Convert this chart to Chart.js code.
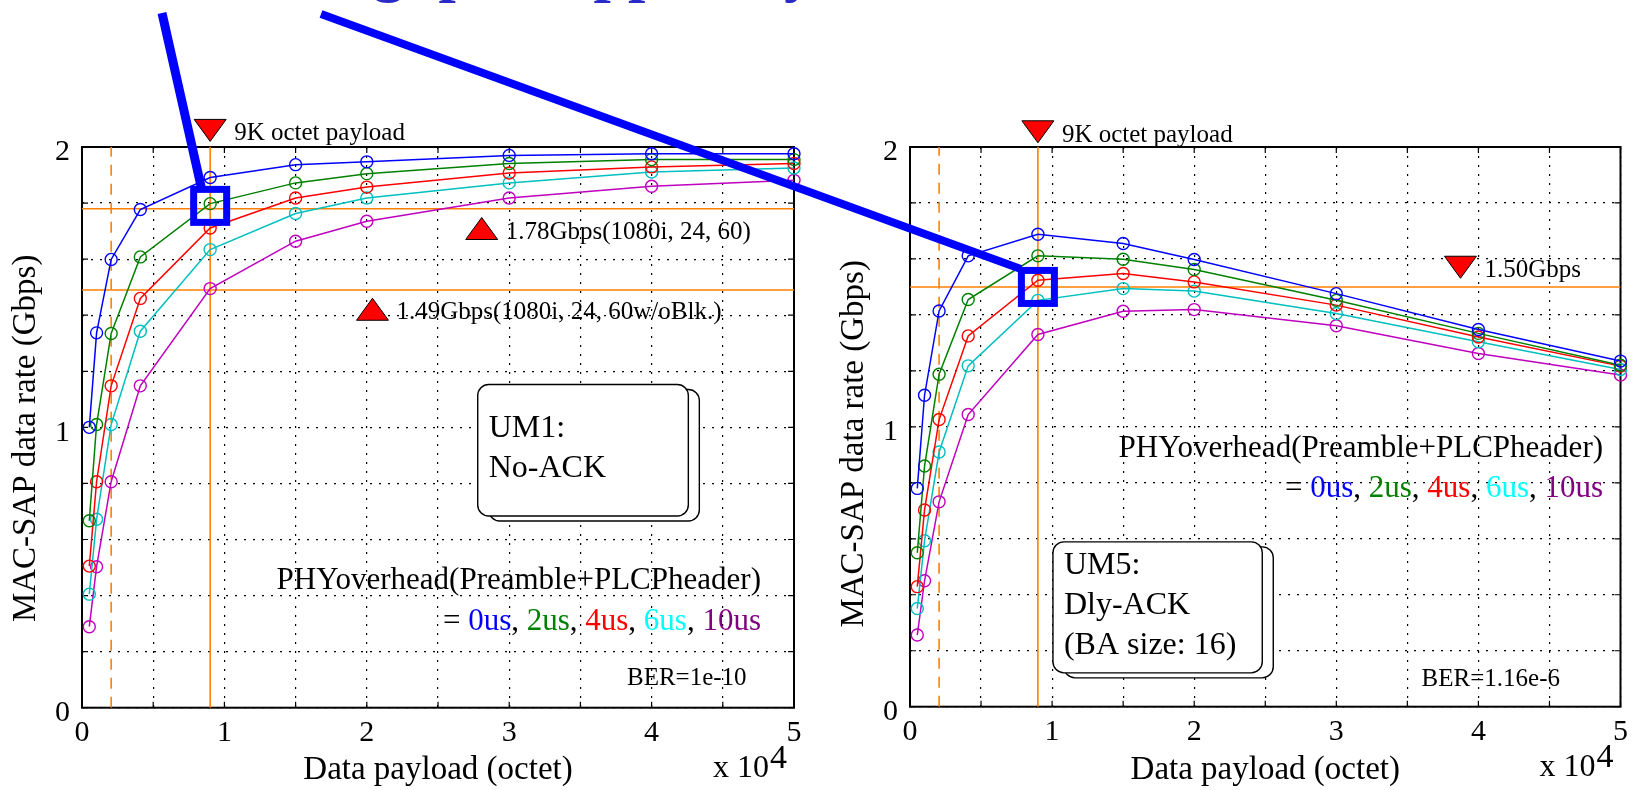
<!DOCTYPE html>
<html>
<head>
<meta charset="utf-8">
<script src="https://cdn.jsdelivr.net/npm/chart.js@4.4.1/dist/chart.umd.min.js"></script>
<style>
  html, body { margin: 0; padding: 0; background: #fff; }
  #wrap { position: relative; width: 1635px; height: 790px; overflow: hidden; background: #fff; }
  canvas { position: absolute; top: 0; }
  #left { left: 0; }
  #right { left: 828px; }
  #overlay { left: 0; pointer-events: none; }
</style>
</head>
<body>
<div id="wrap">
  <canvas id="left" width="828" height="790"></canvas>
  <canvas id="right" width="807" height="790"></canvas>
  <canvas id="overlay" width="1635" height="790"></canvas>
</div>
<script>
// payload sizes (octet) where the rates were computed
const payload = [512, 1024, 2048, 4096, 9000, 15000, 20000, 30000, 40000, 50000];
const overheadLabels = ['0us', '2us', '4us', '6us', '10us'];
const seriesColors = ['#0000ff', '#008000', '#ff0000', '#00bfbf', '#bf00bf'];
const legendColors = ['#0000ff', '#008000', '#ff0000', '#00ffff', '#800080'];

// UM1: No-ACK, BER=1e-10 (Gbps)
const um1Rate0 = [1.00, 1.337, 1.599, 1.777, 1.891, 1.937, 1.947, 1.970, 1.976, 1.976];
const um1Rate2 = [0.667, 1.010, 1.335, 1.608, 1.798, 1.872, 1.905, 1.941, 1.955, 1.955];
const um1Rate4 = [0.505, 0.806, 1.148, 1.460, 1.711, 1.818, 1.857, 1.907, 1.929, 1.941];
const um1Rate6 = [0.405, 0.672, 1.010, 1.343, 1.634, 1.763, 1.818, 1.872, 1.911, 1.925];
const um1Rate10 = [0.289, 0.503, 0.806, 1.148, 1.495, 1.664, 1.735, 1.818, 1.860, 1.881];

// UM5: Dly-ACK (BA size 16), BER=1.16e-6 (Gbps)
const um5Rate0 = [0.780, 1.113, 1.414, 1.611, 1.688, 1.655, 1.598, 1.476, 1.348, 1.235];
const um5Rate2 = [0.550, 0.860, 1.188, 1.455, 1.611, 1.599, 1.562, 1.452, 1.334, 1.220];
const um5Rate4 = [0.429, 0.703, 1.026, 1.325, 1.524, 1.548, 1.518, 1.435, 1.321, 1.217];
const um5Rate6 = [0.351, 0.593, 0.910, 1.218, 1.452, 1.494, 1.485, 1.405, 1.304, 1.205];
const um5Rate10 = [0.256, 0.450, 0.732, 1.044, 1.330, 1.413, 1.419, 1.361, 1.262, 1.185];

// tick labels (x in units of 10^4 octet)
const xTickLabels = [0, 1, 2, 3, 4, 5];
const yTickLabels = [0, 1, 2];

// reference levels
const um1Levels = [1.78, 1.49];
const um5Levels = [1.50];
const payload9K = 9000;
const payloadDashed = 2048;

const xMax = 50000, yMax = 2;
const serif = '"Liberation Serif", "Times New Roman", serif';
const orange = '#ff8000';

Chart.defaults.font.family = serif;
Chart.defaults.color = '#000';

function roundBox(ctx, x, y, w, h, r) {
  ctx.beginPath();
  ctx.moveTo(x + r, y);
  ctx.arcTo(x + w, y, x + w, y + h, r);
  ctx.arcTo(x + w, y + h, x, y + h, r);
  ctx.arcTo(x, y + h, x, y, r);
  ctx.arcTo(x, y, x + w, y, r);
  ctx.closePath();
}

const slideMarks = {
  id: 'slideMarks',
  beforeDatasetsDraw(chart) {
    const {ctx, chartArea: a, scales: {x, y}} = chart;
    ctx.save();
    ctx.strokeStyle = '#000';
    ctx.lineWidth = 1.2;
    ctx.beginPath();
    x.ticks.forEach(t => {
      const p = x.getPixelForValue(t.value);
      ctx.moveTo(p, a.bottom); ctx.lineTo(p, a.bottom - 6);
      ctx.moveTo(p, a.top); ctx.lineTo(p, a.top + 6);
    });
    y.ticks.forEach(t => {
      const p = y.getPixelForValue(t.value);
      ctx.moveTo(a.left, p); ctx.lineTo(a.left + 6, p);
      ctx.moveTo(a.right, p); ctx.lineTo(a.right - 6, p);
    });
    ctx.stroke();
    ctx.lineWidth = 2;
    ctx.strokeRect(a.left, a.top, a.right - a.left, a.bottom - a.top);
    ctx.restore();
  },
  afterDatasetsDraw(chart, args, o) {
    const {ctx, scales: {x, y}} = chart;
    ctx.save();
    ctx.textBaseline = 'alphabetic';

    // red triangles with notes
    o.notes.forEach(m => {
      const px = x.getPixelForValue(m.x), py = y.getPixelForValue(m.y);
      ctx.beginPath();
      if (m.dir === 'down') {
        ctx.moveTo(px - 16, py - 22); ctx.lineTo(px + 16, py - 22); ctx.lineTo(px, py);
      } else {
        ctx.moveTo(px - 16, py); ctx.lineTo(px + 16, py); ctx.lineTo(px, py - 22);
      }
      ctx.closePath();
      ctx.fillStyle = '#ff0000';
      ctx.fill();
      ctx.lineWidth = 1;
      ctx.strokeStyle = '#000';
      ctx.stroke();
      ctx.font = '25px ' + serif;
      ctx.fillStyle = '#000';
      ctx.textAlign = 'left';
      ctx.fillText(m.text, px + 24, py - 1);
    });

    // PHY overhead legend
    ctx.font = '31px ' + serif;
    const lx = x.getPixelForValue(o.legend.x);
    ctx.textAlign = 'right';
    ctx.fillStyle = '#000';
    ctx.fillText('PHYoverhead(Preamble+PLCPheader)', lx, y.getPixelForValue(o.legend.y[0]));
    const pieces = [['= ', '#000']];
    overheadLabels.forEach((l, i) => {
      if (i) pieces.push([', ', '#000']);
      pieces.push([l, legendColors[i]]);
    });
    const total = pieces.reduce((s, p) => s + ctx.measureText(p[0]).width, 0);
    let cx = lx - total;
    const ly = y.getPixelForValue(o.legend.y[1]);
    ctx.textAlign = 'left';
    pieces.forEach(([t, c]) => {
      ctx.fillStyle = c;
      ctx.fillText(t, cx, ly);
      cx += ctx.measureText(t).width;
    });

    // BER
    ctx.font = '25px ' + serif;
    ctx.fillStyle = '#000';
    ctx.fillText(o.ber.text, x.getPixelForValue(o.ber.x), y.getPixelForValue(o.ber.y));

    // scheme box with shadow
    const b = o.box;
    const bx = x.getPixelForValue(b.x0), by = y.getPixelForValue(b.y0);
    const bw = x.getPixelForValue(b.x1) - bx, bh = y.getPixelForValue(b.y1) - by;
    ctx.lineWidth = 1.4;
    ctx.strokeStyle = '#000';
    ctx.fillStyle = '#fff';
    roundBox(ctx, bx + 11, by + 5, bw, bh, 11);
    ctx.fill(); ctx.stroke();
    roundBox(ctx, bx, by, bw, bh, 11);
    ctx.fill(); ctx.stroke();
    ctx.font = '32px ' + serif;
    ctx.fillStyle = '#000';
    const first = by + bh / 2 - (b.lines.length - 1) * 40 / 2 + 10.5 - 4;
    b.lines.forEach((t, i) => ctx.fillText(t, bx + 11, first + i * 40));
    ctx.restore();
  },
  afterDraw(chart, args, o) {
    const {ctx, chartArea: a} = chart;
    ctx.save();
    ctx.fillStyle = '#000';
    ctx.translate(a.left - 56, (a.top + a.bottom) / 2 + o.titleShift);
    ctx.rotate(-Math.PI / 2);
    ctx.font = '33px ' + serif;
    ctx.textAlign = 'center';
    ctx.textBaseline = 'middle';
    ctx.fillText('MAC-SAP data rate (Gbps)', 0, 0);
    ctx.restore();

    ctx.save();
    ctx.fillStyle = '#000';
    ctx.font = '32px ' + serif;
    ctx.textAlign = 'left';
    ctx.textBaseline = 'alphabetic';
    const ex = a.right - 81;
    ctx.fillText('x 10', ex, a.bottom + 69);
    ctx.font = '34px ' + serif;
    ctx.fillText('4', ex + 57, a.bottom + 60);
    ctx.restore();
  }
};

function seriesSets(rates) {
  return rates.map((r, i) => ({
    label: overheadLabels[i],
    data: payload.map((p, k) => ({x: p, y: r[k]})),
    borderColor: seriesColors[i],
    borderWidth: 1.5,
    pointStyle: 'circle',
    pointRadius: 6,
    pointBorderWidth: 1.4,
    pointBorderColor: seriesColors[i],
    pointBackgroundColor: 'rgba(0,0,0,0)',
    showLine: true,
    tension: 0,
    clip: false,
    order: 0
  }));
}

function guideSets(levels) {
  const base = {borderColor: orange, borderWidth: 1.6, pointRadius: 0, showLine: true, tension: 0, order: 1};
  const sets = levels.map(v => Object.assign({data: [{x: 0, y: v}, {x: xMax, y: v}]}, base));
  sets.push(Object.assign({data: [{x: payload9K, y: 0}, {x: payload9K, y: yMax}]}, base));
  sets.push(Object.assign({data: [{x: payloadDashed, y: 0}, {x: payloadDashed, y: yMax}], borderDash: [11, 8]}, base));
  return sets;
}

function makeChart(id, rates, levels, padRight, bottom, marks) {
  const ctx = document.getElementById(id).getContext('2d');
  return new Chart(ctx, {
    type: 'scatter',
    data: { datasets: seriesSets(rates).concat(guideSets(levels)) },
    plugins: [slideMarks],
    options: {
      responsive: false,
      devicePixelRatio: 1,
      animation: false,
      events: [],
      layout: { padding: { left: 0, right: padRight, top: 147, bottom: 0 } },
      scales: {
        x: {
          type: 'linear', min: 0, max: xMax,
          afterFit: s => { s.height = 790 - bottom; },
          ticks: {
            stepSize: 5000, autoSkip: false, maxRotation: 0, padding: 7,
            font: { size: 30 }, color: '#000',
            callback: v => xTickLabels.includes(v / 10000) ? String(v / 10000) : ''
          },
          grid: { color: '#000', lineWidth: 1.2, drawTicks: false },
          border: { display: false, dash: [2, 7] },
          title: { display: true, text: 'Data payload (octet)', font: { size: 33 }, color: '#000', padding: { top: 0, bottom: 0 } }
        },
        y: {
          type: 'linear', min: 0, max: yMax,
          afterFit: s => { s.width = 82; },
          ticks: {
            stepSize: 0.2, autoSkip: false, padding: 12, labelOffset: 5.5,
            font: { size: 30 }, color: '#000',
            callback: v => {
              const t = yTickLabels.find(k => Math.abs(k - v) < 1e-6);
              return t === undefined ? '' : String(t);
            }
          },
          grid: { color: '#000', lineWidth: 1.2, drawTicks: false },
          border: { display: false, dash: [2, 7] }
        }
      },
      plugins: {
        legend: { display: false },
        tooltip: { enabled: false },
        slideMarks: marks
      }
    }
  });
}

const leftChart = makeChart('left',
  [um1Rate0, um1Rate2, um1Rate4, um1Rate6, um1Rate10], um1Levels, 34, 707.7, {
    titleShift: 11,
    notes: [
      {x: payload9K, y: 2.02, dir: 'down', text: '9K octet payload'},
      {x: 28070, y: 1.67, dir: 'up', text: '1.78Gbps(1080i, 24, 60)'},
      {x: 20400, y: 1.382, dir: 'up', text: '1.49Gbps(1080i, 24, 60w/oBlk.)'}
    ],
    legend: {x: 47680, y: [0.423, 0.277]},
    ber: {x: 38270, y: 0.081, text: 'BER=1e-10'},
    box: {x0: 27790, x1: 42580, y0: 1.153, y1: 0.684, lines: ['UM1:', 'No-ACK']}
  });

const rightChart = makeChart('right',
  [um5Rate0, um5Rate2, um5Rate4, um5Rate6, um5Rate10], um5Levels, 12.7, 706.7, {
    titleShift: 17,
    notes: [
      {x: payload9K, y: 2.015, dir: 'down', text: '9K octet payload'},
      {x: 38740, y: 1.531, dir: 'down', text: '1.50Gbps'}
    ],
    legend: {x: 48770, y: [0.892, 0.749]},
    ber: {x: 36000, y: 0.074, text: 'BER=1.16e-6'},
    box: {x0: 10060, x1: 24790, y0: 0.589, y1: 0.121, lines: ['UM5:', 'Dly-ACK', '(BA size: 16)']}
  });

// slide overlay: highlighted points and pointer lines
(function drawOverlay() {
  const c = document.getElementById('overlay').getContext('2d');
  const at = (chart, off, xv, yv) => ({
    cx: off + chart.scales.x.getPixelForValue(xv),
    cy: chart.scales.y.getPixelForValue(yv)
  });
  const s1 = at(leftChart, 0, payload9K, 1.79);
  const s2 = at(rightChart, 828, payload9K, 1.50);

  // bottom edge of the slide heading, cut off at the top
  c.fillStyle = '#2a2ac8';
  c.font = 'bold 62px ' + serif;
  c.textBaseline = 'alphabetic';
  c.textAlign = 'left';
  c.fillText('MAC throughput, upper-layer', 528 - c.measureText('MAC throughput').width, -10);

  c.strokeStyle = '#0000ff';
  c.lineCap = 'butt';
  c.lineWidth = 9;
  c.beginPath();
  c.moveTo(162, 13);
  c.lineTo(s1.cx - 9, s1.cy - 19);
  c.stroke();
  c.lineWidth = 8;
  c.beginPath();
  c.moveTo(321, 14);
  c.lineTo(s2.cx - 17, s2.cy - 18);
  c.stroke();

  c.lineWidth = 7;
  c.strokeRect(s1.cx - 16.5, s1.cy - 16.5, 33, 33);
  c.strokeRect(s2.cx - 16.5, s2.cy - 16.5, 33, 33);
})();
</script>
</body>
</html>
